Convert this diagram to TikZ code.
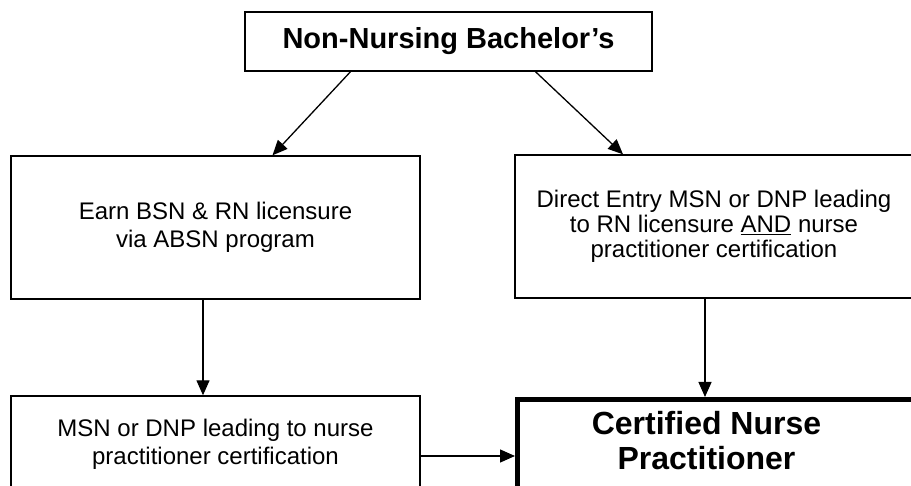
\documentclass[tikz,border=0pt]{standalone}
\usepackage{fontspec}
\setmainfont{Liberation Sans}
\usetikzlibrary{arrows.meta}
\tikzstyle{rec} = [rectangle, draw=black, line width=1.4pt, align=center, font=\fontsize{24}{28}\selectfont]
\tikzstyle{head} = [rec, font=\fontsize{29}{34}\selectfont\bfseries]
\tikzstyle{goal} = [rec, line width=5pt, font=\fontsize{32}{35}\selectfont\bfseries]
\tikzstyle{arrow} = [line width=1.3pt, -{Triangle[length=15pt,width=13pt]}]

\begin{document}
\begin{tikzpicture}[x=1pt,y=-1pt]
		\useasboundingbox (0,0) rectangle (911,486);
		\clip (0,0) rectangle (911,486);
		\node (bach) [head, minimum width=407pt, minimum height=59pt] at (448.5,41.5) {Non-Nursing Bachelor’s};
		\node (absn) [rec, minimum width=409pt, minimum height=143pt] at (215.5,227.5) {Earn BSN \& RN licensure\\via ABSN program};
		\node (direct) [rec, minimum width=398pt, minimum height=143pt, font=\fontsize{24}{25}\selectfont] at (714,226.5) {Direct Entry MSN or DNP leading\\to RN licensure \underline{AND} nurse\\practitioner certification};
		\node (msn) [rec, minimum width=409pt, minimum height=96pt] at (215.5,444) {MSN or DNP leading to nurse\\practitioner certification};
		\node (cnp) [goal, anchor=north west, minimum width=410pt, inner ysep=12pt, text depth=70pt] at (515,397) {Certified Nurse\hspace*{32pt}\\Practitioner\hspace*{32pt}};
		\draw [arrow] ([xshift=-98pt]bach.south) -- ([xshift=57pt]absn.north);
		\draw [arrow] ([xshift=87pt]bach.south) -- ([xshift=-91pt]direct.north);
		\draw [arrow] ([xshift=-12.5pt]absn.south) -- ([xshift=-12.5pt]msn.north);
		\draw [arrow] ([xshift=-9pt]direct.south) -- ([xshift=-9pt]direct.south |- cnp.north);
		\draw [arrow] ([yshift=-12pt]msn.east) -- ([yshift=-12pt]msn.east -| cnp.west);
\end{tikzpicture}
\end{document}
